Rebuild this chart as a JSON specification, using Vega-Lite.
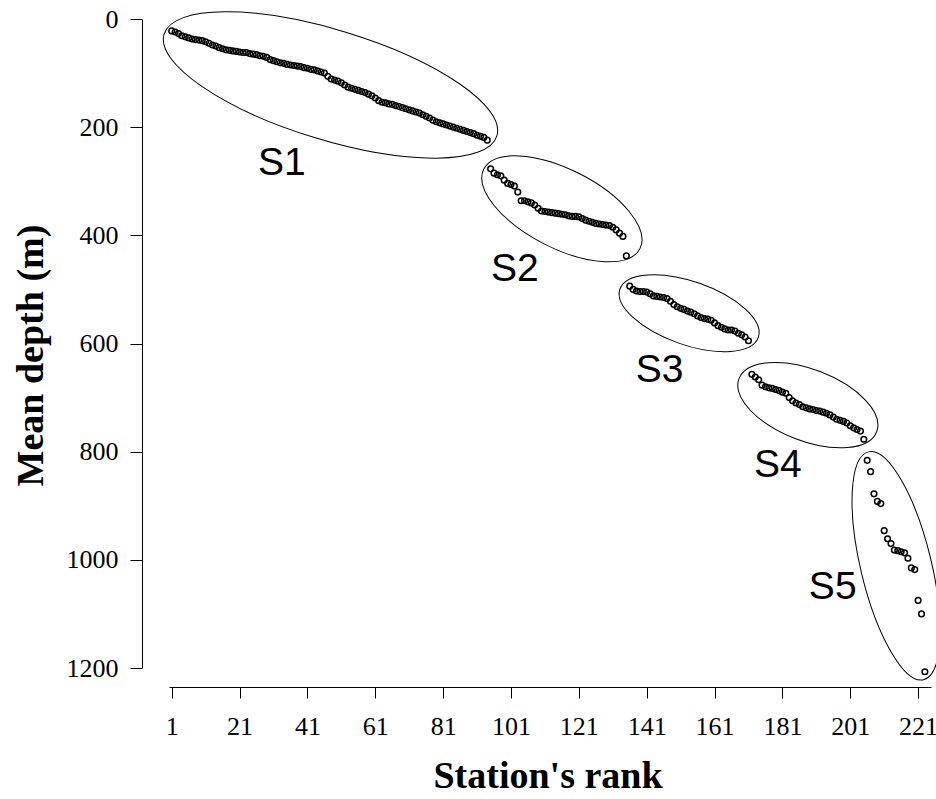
{
  "$schema": "https://vega.github.io/schema/vega-lite/v6.json",
  "width": 762,
  "height": 649,
  "autosize": {"type": "none"},
  "padding": {"left": 169, "top": 19, "right": 5, "bottom": 131},
  "background": "white",
  "config": {"view": {"stroke": null}, "font": "Liberation Serif"},
  "datasets": {
    "stations": [
      {"rank":1,"depth":22},{"rank":2,"depth":24},{"rank":3,"depth":27},{"rank":4,"depth":31},{"rank":5,"depth":33},{"rank":6,"depth":35},{"rank":7,"depth":37},{"rank":8,"depth":38},{"rank":9,"depth":39},{"rank":10,"depth":40},
      {"rank":11,"depth":42},{"rank":12,"depth":45},{"rank":13,"depth":48},{"rank":14,"depth":50},{"rank":15,"depth":53},{"rank":16,"depth":55},{"rank":17,"depth":57},{"rank":18,"depth":58},{"rank":19,"depth":59},{"rank":20,"depth":60},
      {"rank":21,"depth":61},{"rank":22,"depth":62},{"rank":23,"depth":62},{"rank":24,"depth":64},{"rank":25,"depth":65},{"rank":26,"depth":66},{"rank":27,"depth":68},{"rank":28,"depth":69},{"rank":29,"depth":71},{"rank":30,"depth":75},
      {"rank":31,"depth":77},{"rank":32,"depth":79},{"rank":33,"depth":81},{"rank":34,"depth":82},{"rank":35,"depth":84},{"rank":36,"depth":85},{"rank":37,"depth":86},{"rank":38,"depth":87},{"rank":39,"depth":88},{"rank":40,"depth":90},
      {"rank":41,"depth":91},{"rank":42,"depth":93},{"rank":43,"depth":94},{"rank":44,"depth":96},{"rank":45,"depth":98},{"rank":46,"depth":100},{"rank":47,"depth":106},{"rank":48,"depth":111},{"rank":49,"depth":113},{"rank":50,"depth":115},
      {"rank":51,"depth":118},{"rank":52,"depth":122},{"rank":53,"depth":126},{"rank":54,"depth":128},{"rank":55,"depth":130},{"rank":56,"depth":132},{"rank":57,"depth":134},{"rank":58,"depth":136},{"rank":59,"depth":139},{"rank":60,"depth":142},
      {"rank":61,"depth":146},{"rank":62,"depth":151},{"rank":63,"depth":154},{"rank":64,"depth":155},{"rank":65,"depth":157},{"rank":66,"depth":158},{"rank":67,"depth":160},{"rank":68,"depth":162},{"rank":69,"depth":164},{"rank":70,"depth":166},
      {"rank":71,"depth":168},{"rank":72,"depth":170},{"rank":73,"depth":172},{"rank":74,"depth":174},{"rank":75,"depth":177},{"rank":76,"depth":180},{"rank":77,"depth":183},{"rank":78,"depth":187},{"rank":79,"depth":190},{"rank":80,"depth":192},
      {"rank":81,"depth":194},{"rank":82,"depth":196},{"rank":83,"depth":198},{"rank":84,"depth":200},{"rank":85,"depth":202},{"rank":86,"depth":204},{"rank":87,"depth":206},{"rank":88,"depth":208},{"rank":89,"depth":210},{"rank":90,"depth":212},
      {"rank":91,"depth":215},{"rank":92,"depth":217},{"rank":93,"depth":219},{"rank":94,"depth":224},
      {"rank":95,"depth":277},{"rank":96,"depth":285},{"rank":97,"depth":288},{"rank":98,"depth":290},{"rank":99,"depth":298},{"rank":100,"depth":304},
      {"rank":101,"depth":306},{"rank":102,"depth":309},{"rank":103,"depth":320},{"rank":104,"depth":336},{"rank":105,"depth":336},{"rank":106,"depth":338},{"rank":107,"depth":340},{"rank":108,"depth":344},{"rank":109,"depth":350},{"rank":110,"depth":355},
      {"rank":111,"depth":356},{"rank":112,"depth":357},{"rank":113,"depth":358},{"rank":114,"depth":359},{"rank":115,"depth":360},{"rank":116,"depth":361},{"rank":117,"depth":362},{"rank":118,"depth":364},{"rank":119,"depth":365},{"rank":120,"depth":365},
      {"rank":121,"depth":366},{"rank":122,"depth":369},{"rank":123,"depth":372},{"rank":124,"depth":374},{"rank":125,"depth":376},{"rank":126,"depth":378},{"rank":127,"depth":379},{"rank":128,"depth":380},{"rank":129,"depth":381},{"rank":130,"depth":382},
      {"rank":131,"depth":385},{"rank":132,"depth":390},{"rank":133,"depth":396},{"rank":134,"depth":402},{"rank":135,"depth":438},
      {"rank":136,"depth":494},{"rank":137,"depth":500},{"rank":138,"depth":503},{"rank":139,"depth":504},{"rank":140,"depth":504},
      {"rank":141,"depth":505},{"rank":142,"depth":508},{"rank":143,"depth":512},{"rank":144,"depth":513},{"rank":145,"depth":514},{"rank":146,"depth":515},{"rank":147,"depth":517},{"rank":148,"depth":522},{"rank":149,"depth":528},{"rank":150,"depth":532},
      {"rank":151,"depth":535},{"rank":152,"depth":537},{"rank":153,"depth":540},{"rank":154,"depth":542},{"rank":155,"depth":545},{"rank":156,"depth":549},{"rank":157,"depth":552},{"rank":158,"depth":554},{"rank":159,"depth":555},{"rank":160,"depth":557},
      {"rank":161,"depth":562},{"rank":162,"depth":567},{"rank":163,"depth":570},{"rank":164,"depth":573},{"rank":165,"depth":575},{"rank":166,"depth":575},{"rank":167,"depth":577},{"rank":168,"depth":581},{"rank":169,"depth":584},{"rank":170,"depth":588},
      {"rank":171,"depth":595},
      {"rank":172,"depth":657},{"rank":173,"depth":662},{"rank":174,"depth":667},{"rank":175,"depth":677},{"rank":176,"depth":680},{"rank":177,"depth":682},{"rank":178,"depth":683},{"rank":179,"depth":685},{"rank":180,"depth":687},
      {"rank":181,"depth":690},{"rank":182,"depth":692},{"rank":183,"depth":700},{"rank":184,"depth":706},{"rank":185,"depth":710},{"rank":186,"depth":713},{"rank":187,"depth":717},{"rank":188,"depth":719},{"rank":189,"depth":721},{"rank":190,"depth":722},
      {"rank":191,"depth":724},{"rank":192,"depth":725},{"rank":193,"depth":727},{"rank":194,"depth":729},{"rank":195,"depth":732},{"rank":196,"depth":736},{"rank":197,"depth":740},{"rank":198,"depth":742},{"rank":199,"depth":744},{"rank":200,"depth":747},
      {"rank":201,"depth":752},{"rank":202,"depth":756},{"rank":203,"depth":759},{"rank":204,"depth":762},{"rank":205,"depth":777},
      {"rank":206,"depth":816},{"rank":207,"depth":837},{"rank":208,"depth":878},{"rank":209,"depth":892},{"rank":210,"depth":896},
      {"rank":211,"depth":946},{"rank":212,"depth":961},{"rank":213,"depth":970},{"rank":214,"depth":982},{"rank":215,"depth":983},{"rank":216,"depth":985},{"rank":217,"depth":987},{"rank":218,"depth":997},{"rank":219,"depth":1015},{"rank":220,"depth":1018},
      {"rank":221,"depth":1075},{"rank":222,"depth":1100},{"rank":223,"depth":1207}
    ],
    "ellipses": [
      {"group":"S1","rank":47.8,"depth":122},
      {"group":"S2","rank":116.0,"depth":351},
      {"group":"S3","rank":153.5,"depth":544},
      {"group":"S4","rank":188.5,"depth":714},
      {"group":"S5","rank":214.5,"depth":1011}
    ],
    "labels": [
      {"label":"S1","rank":26.4,"depth":288},
      {"label":"S2","rank":95.1,"depth":484},
      {"label":"S3","rank":137.8,"depth":671},
      {"label":"S4","rank":172.6,"depth":847},
      {"label":"S5","rank":188.8,"depth":1072}
    ]
  },
  "layer": [
    {
      "data": {"name": "stations"},
      "mark": {"type": "point", "shape": "circle", "filled": false, "stroke": "black", "strokeWidth": 1.5, "size": 32, "opacity": 1},
      "encoding": {
        "x": {
          "field": "rank", "type": "quantitative",
          "scale": {"domain": [0.2, 224.8], "nice": false, "zero": false},
          "axis": {
            "values": [1,11,21,31,41,51,61,71,81,91,101,111,121,131,141,151,161,171,181,191,201,211,221],
            "labelExpr": "(datum.value - 1) % 20 == 0 ? datum.label : ''",
            "tickSize": {"condition": {"test": "(datum.value - 1) % 20 != 0", "value": 5}, "value": 11},
            "offset": 19, "labelPadding": 15, "labelFontSize": 26, "labelFont": "Liberation Serif",
            "labelColor": "black", "domainColor": "black", "tickColor": "black", "domainWidth": 1, "tickWidth": 1,
            "grid": false, "labelFlush": false, "labelOverlap": false,
            "title": "Station's rank", "titleFont": "Liberation Serif", "titleFontSize": 38, "titleFontWeight": "bold",
            "titleColor": "black", "titleX": 378.5, "titleY": 100, "titleBaseline": "alphabetic", "titleAlign": "center"
          }
        },
        "y": {
          "field": "depth", "type": "quantitative",
          "scale": {"domain": [0, 1200], "reverse": true, "nice": false, "zero": false},
          "axis": {
            "values": [0,200,400,600,800,1000,1200], "format": "d",
            "tickSize": 12, "offset": 27, "labelPadding": 12, "labelFontSize": 26, "labelFont": "Liberation Serif",
            "labelColor": "black", "domainColor": "black", "tickColor": "black", "domainWidth": 1, "tickWidth": 1,
            "grid": false, "labelFlush": false, "labelOverlap": false,
            "title": "Mean depth (m)", "titleFont": "Liberation Serif", "titleFontSize": 38, "titleFontWeight": "bold",
            "titleColor": "black", "titleAngle": -90, "titleX": -100, "titleY": 336, "titleBaseline": "alphabetic", "titleAlign": "center"
          }
        }
      }
    },
    {
      "data": {"name": "ellipses"},
      "transform": [{"filter": "datum.group == 'S1'"}],
      "mark": {"type": "point", "filled": false, "stroke": "black", "strokeWidth": 1, "opacity": 1, "size": 121104, "angle": 17,
        "shape": "M-1 0C-1 -0.1745 -0.5523 -0.316 0 -0.316C0.5523 -0.316 1 -0.1745 1 0C1 0.1745 0.5523 0.316 0 0.316C-0.5523 0.316 -1 0.1745 -1 0Z"},
      "encoding": {"x": {"field": "rank", "type": "quantitative"}, "y": {"field": "depth", "type": "quantitative"}}
    },
    {
      "data": {"name": "ellipses"},
      "transform": [{"filter": "datum.group == 'S2'"}],
      "mark": {"type": "point", "filled": false, "stroke": "black", "strokeWidth": 1, "opacity": 1, "size": 30695, "angle": 27,
        "shape": "M-1 0C-1 -0.2478 -0.5523 -0.4486 0 -0.4486C0.5523 -0.4486 1 -0.2478 1 0C1 0.2478 0.5523 0.4486 0 0.4486C-0.5523 0.4486 -1 0.2478 -1 0Z"},
      "encoding": {"x": {"field": "rank", "type": "quantitative"}, "y": {"field": "depth", "type": "quantitative"}}
    },
    {
      "data": {"name": "ellipses"},
      "transform": [{"filter": "datum.group == 'S3'"}],
      "mark": {"type": "point", "filled": false, "stroke": "black", "strokeWidth": 1, "opacity": 1, "size": 21492, "angle": 19.3,
        "shape": "M-1 0C-1 -0.2389 -0.5523 -0.4325 0 -0.4325C0.5523 -0.4325 1 -0.2389 1 0C1 0.2389 0.5523 0.4325 0 0.4325C-0.5523 0.4325 -1 0.2389 -1 0Z"},
      "encoding": {"x": {"field": "rank", "type": "quantitative"}, "y": {"field": "depth", "type": "quantitative"}}
    },
    {
      "data": {"name": "ellipses"},
      "transform": [{"filter": "datum.group == 'S4'"}],
      "mark": {"type": "point", "filled": false, "stroke": "black", "strokeWidth": 1, "opacity": 1, "size": 21786, "angle": 21.1,
        "shape": "M-1 0C-1 -0.2679 -0.5523 -0.4851 0 -0.4851C0.5523 -0.4851 1 -0.2679 1 0C1 0.2679 0.5523 0.4851 0 0.4851C-0.5523 0.4851 -1 0.2679 -1 0Z"},
      "encoding": {"x": {"field": "rank", "type": "quantitative"}, "y": {"field": "depth", "type": "quantitative"}}
    },
    {
      "data": {"name": "ellipses"},
      "transform": [{"filter": "datum.group == 'S5'"}],
      "mark": {"type": "point", "filled": false, "stroke": "black", "strokeWidth": 1, "opacity": 1, "size": 54943, "angle": 76.4,
        "shape": "M-1 0C-1 -0.1663 -0.5523 -0.3012 0 -0.3012C0.5523 -0.3012 1 -0.1663 1 0C1 0.1663 0.5523 0.3012 0 0.3012C-0.5523 0.3012 -1 0.1663 -1 0Z"},
      "encoding": {"x": {"field": "rank", "type": "quantitative"}, "y": {"field": "depth", "type": "quantitative"}}
    },
    {
      "data": {"name": "labels"},
      "mark": {"type": "text", "font": "Liberation Sans", "fontSize": 39, "align": "left", "baseline": "alphabetic", "color": "black"},
      "encoding": {
        "x": {"field": "rank", "type": "quantitative"},
        "y": {"field": "depth", "type": "quantitative"},
        "text": {"field": "label", "type": "nominal"}
      }
    }
  ]
}
